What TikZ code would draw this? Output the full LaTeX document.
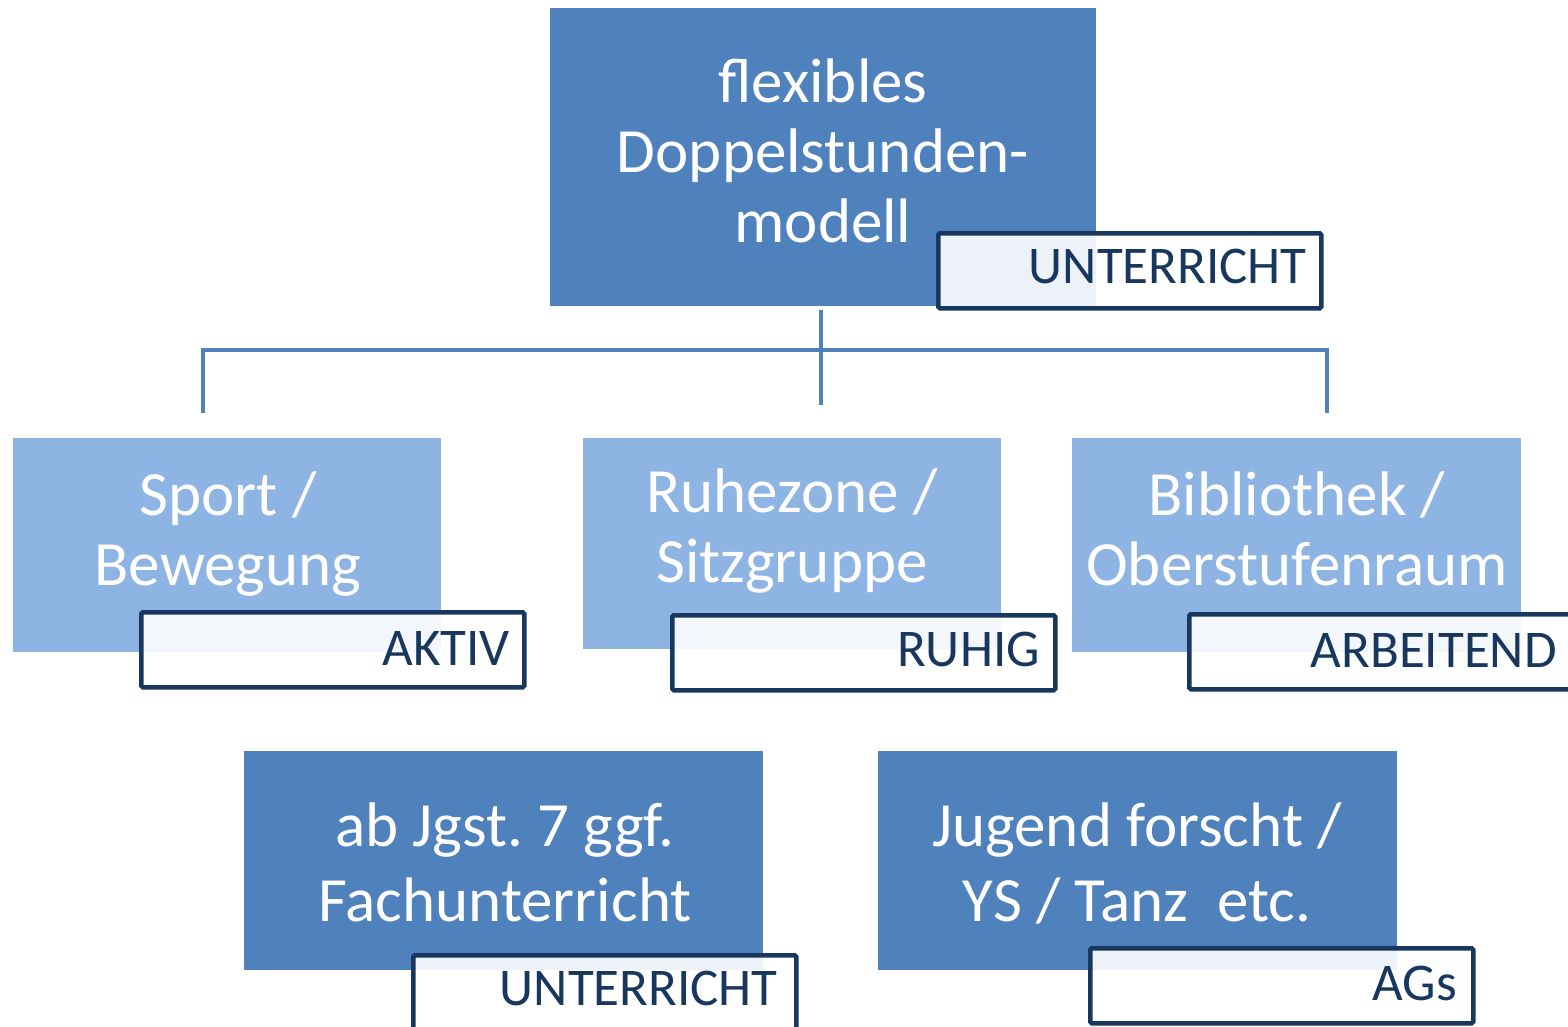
\documentclass[tikz,border=0pt]{standalone}
\usepackage{fontspec}
\setmainfont{Carlito}
\frenchspacing
\definecolor{dblue}{HTML}{4F81BD}
\definecolor{lblue}{HTML}{8EB4E3}
\definecolor{navy}{HTML}{17375E}
\begin{document}
\begin{tikzpicture}[x=1pt,y=-1pt,
  darkbox/.style={fill=dblue, draw=none, inner sep=0pt, anchor=north west},
  lightbox/.style={fill=lblue, draw=none, inner sep=0pt, anchor=north west},
  tagbox/.style={fill=white, fill opacity=0.9, draw=navy, line width=4.5pt, rounded corners=1.5pt,
    inner sep=0pt, anchor=north west, minimum width=383pt, minimum height=75pt},
  maintext/.style={text=white, align=center, inner sep=0pt, font=\fontsize{63}{70}\selectfont, anchor=base},
  bottext/.style={text=white, align=center, inner sep=0pt, font=\fontsize{63}{75}\selectfont, anchor=base},
  tagtext/.style={text=navy, inner sep=0pt, font=\fontsize{53}{60}\selectfont, anchor=base east},
  conn/.style={draw=dblue, line width=4pt}]
\useasboundingbox (0,0) rectangle (1568,1026);

% main boxes
\node[darkbox, minimum width=546pt, minimum height=298pt] (top) at (550,8) {};
\node[lightbox, minimum width=428pt, minimum height=214pt] (b1) at (13,438) {};
\node[lightbox, minimum width=418pt, minimum height=211pt] (b2) at (583,438) {};
\node[lightbox, minimum width=449pt, minimum height=214pt] (b3) at (1072,438) {};
\node[darkbox, minimum width=519pt, minimum height=219pt] (b4) at (244,751) {};
\node[darkbox, minimum width=519pt, minimum height=219pt] (b5) at (878,751) {};

% texts (anchored at the baseline of the last line)
\node[maintext] (ttop) at (823,242) {flexibles\\Doppelstunden-\\modell};
\node[maintext] (t1) at (228,585) {Sport /\\Bewegung};
\node[maintext] (t2) at (792,582) {Ruhezone /\\Sitzgruppe};
\node[maintext] (t3) at (1297,585) {Bibliothek /\\Oberstufenraum};
\node[bottext] (t4) at (505,921) {ab Jgst. 7 ggf.\\Fachunterricht};
\node[bottext] (t5) at (1137,921) {Jugend forscht /\\YS / Tanz\ \ etc.};

% connectors
\coordinate (cTop) at (821,310);
\coordinate (cMid) at (821,350);
\coordinate (cEnd) at (821,405);
\coordinate (cL) at (203,350);
\coordinate (cR) at (1327,350);
\coordinate (cLd) at (203,413);
\coordinate (cRd) at (1327,413);
\draw[conn] (cTop) -- (cEnd);
\draw[conn] (cLd) -- (cL) -- (cR) -- (cRd);

% tags
\node[tagbox] (g0) at (936,231) {};
\node[tagtext] (tg0) at (1307,283) {UNTERRICHT};
\node[tagbox] (g1) at (139,610) {};
\node[tagtext] (tg1) at (510,665) {AKTIV};
\node[tagbox] (g2) at (670,613) {};
\node[tagtext] (tg2) at (1040,666) {RUHIG};
\node[tagbox, minimum width=381pt] (g3) at (1187,612) {};
\node[tagtext] (tg3) at (1557,667) {ARBEITEND};
\node[tagbox] (g4) at (411,953) {};
\node[tagtext] (tg4) at (778,1005) {UNTERRICHT};
\node[tagbox] (g5) at (1088,946) {};
\node[tagtext] (tg5) at (1457,1000) {AGs};
\end{tikzpicture}
\end{document}
